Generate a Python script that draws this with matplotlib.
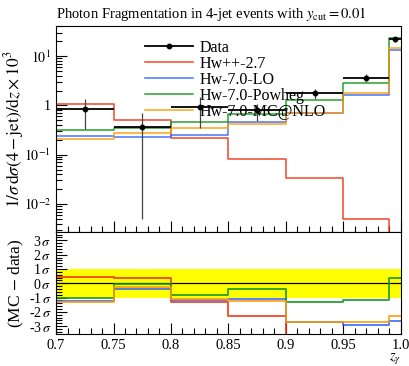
import numpy as np
import matplotlib
matplotlib.use("Agg")
import matplotlib.pyplot as plt
from matplotlib.ticker import FixedLocator, MultipleLocator, FuncFormatter, LogLocator

# bin edges in z_gamma
edges = [0.7, 0.75, 0.8, 0.85, 0.9, 0.95, 0.99, 1.0]

# data (with up/down errors)
data = [0.86, 0.37, 0.92, 0.80, 1.75, 3.58, 21.8]
data_up = [0.51, 0.34, 0.55, 0.25, 0.35, 0.67, 2.5]
data_dn = [0.53, 0.365, 0.57, 0.32, 0.43, 0.62, 2.5]

# MC predictions
hwpp = [1.08, 0.50, 0.22, 0.083, 0.034, 0.0049, 0.0005]
hw7_lo = [0.24, 0.23, 0.25, 0.45, 0.71, 1.6, 13.2]
hw7_powheg = [0.32, 0.35, 0.47, 0.67, 1.26, 2.8, 23.2]
hw7_mcnlo = [0.21, 0.27, 0.35, 0.41, 0.71, 1.8, 14.5]

# deviation (MC - data) in sigma
dev_hwpp = [0.46, 0.39, -1.32, -2.27, -10, -10, -10]
dev_lo = [-1.23, -0.40, -1.18, -1.09, -2.71, -2.9, -2.64]
dev_powheg = [-1.04, -0.05, -0.81, -0.40, -1.28, -1.18, 0.35]
dev_mcnlo = [-1.28, -0.23, -1.09, -1.23, -2.71, -2.71, -2.27]

labels = ["Hw++-2.7", "Hw-7.0-LO", "Hw-7.0-Powheg", "Hw-7.0-MC@NLO"]
colors = ["#EE3311", "#3366FF", "#109618", "#FF9900"]

plt.rcParams["font.family"] = ["Liberation Serif", "DejaVu Serif"]
plt.rcParams["mathtext.fontset"] = "stix"
plt.rcParams["font.size"] = 10

fig = plt.figure(figsize=(4.1, 3.66), dpi=100)
ax = fig.add_axes([0.1366, 0.366, 0.8414, 0.563])
rax = fig.add_axes([0.1366, 0.0874, 0.8414, 0.2786], sharex=ax)

e = np.array(edges)
centers = 0.5 * (e[:-1] + e[1:])
halfw = 0.5 * (e[1:] - e[:-1])


def step(a, vals, **kw):
    v = list(vals) + [vals[-1]]
    a.step(edges, v, where="post", **kw)


for vals, lab, c in zip([hwpp, hw7_lo, hw7_powheg, hw7_mcnlo], labels, colors):
    step(ax, vals, color=c, lw=1.1, label=lab, alpha=0.9)

ax.errorbar(centers, data, yerr=[data_dn, data_up], fmt="none", ecolor="#444444", elinewidth=0.9, zorder=5)
ax.errorbar(centers, data, xerr=halfw, fmt="none", ecolor="black", elinewidth=1.3, zorder=6)
ax.plot(centers, data, "o", color="black", ms=3.2, zorder=7)
# legend proxy for data
ax.plot([], [], "-o", color="black", ms=3.2, lw=1.3, label="Data")

ax.set_yscale("log")
ax.set_ylim(0.0027, 40.7)
ax.set_xlim(0.7, 1.0)


def logfmt(v, pos):
    if abs(v - 1) < 1e-9:
        return "1"
    ex = int(round(np.log10(v)))
    return r"$10^{%d}$" % ex


ax.yaxis.set_major_locator(LogLocator(base=10, numticks=10))
ax.yaxis.set_major_formatter(FuncFormatter(logfmt))
ax.yaxis.set_minor_locator(LogLocator(base=10, subs=np.arange(2, 10), numticks=20))
ax.yaxis.set_minor_formatter(FuncFormatter(lambda v, p: ""))

handles, labs = ax.get_legend_handles_labels()
order = [4, 0, 1, 2, 3]
ax.legend([handles[i] for i in order], [labs[i] for i in order], loc="upper left",
          bbox_to_anchor=(0.24, 0.965), frameon=False, handlelength=3.0,
          labelspacing=0.0, fontsize=11.5, handletextpad=0.4, borderaxespad=0)

ax.set_ylabel(r"$1/\sigma\,\mathrm{d}\sigma(4 - \mathrm{jet})/\mathrm{d}z \times 10^3$", fontsize=12.5)
ax.yaxis.set_label_coords(-0.086, 0.5)
ax.set_title(r"Photon Fragmentation in 4-jet events with $y_\mathrm{cut}=0.01$",
             loc="left", fontsize=10.5, pad=6)

# ratio panel
rax.axhspan(-1, 1, color="#FFFF00", lw=0)
rax.axhline(0, color="black", lw=0.9)
for vals, c in zip([dev_hwpp, dev_lo, dev_powheg, dev_mcnlo], colors):
    step(rax, vals, color=c, lw=1.3, alpha=0.9)
rax.set_ylim(-3.55, 3.58)
rax.yaxis.set_major_locator(FixedLocator([-3, -2, -1, 0, 1, 2, 3]))
rax.yaxis.set_major_formatter(FuncFormatter(lambda v, p: r"%d$\,\sigma$" % int(round(v))))
rax.yaxis.set_minor_locator(MultipleLocator(0.2))
rax.set_ylabel(r"(MC $-$ data)", fontsize=12.5)
rax.yaxis.set_label_coords(-0.086, 0.5)
rax.set_xlabel(r"$z_\gamma$", fontsize=10.5, loc="right")
rax.xaxis.set_label_coords(1.0, -0.17)

rax.xaxis.set_major_locator(FixedLocator([0.7, 0.75, 0.8, 0.85, 0.9, 0.95, 1.0]))
rax.xaxis.set_minor_locator(MultipleLocator(0.01))
rax.xaxis.set_major_formatter(FuncFormatter(lambda v, p: "%g" % round(v, 2) if abs(v - 1) > 1e-6 else "1.0"))

for a in (ax, rax):
    a.tick_params(which="major", direction="in", length=8, width=0.8, top=False, right=False, labelsize=10)
    a.tick_params(which="minor", direction="in", length=4, width=0.8, top=False, right=False)
ax.tick_params(axis="x", labelbottom=False)
rax.tick_params(axis="x", labelsize=10.5)

fig.savefig("out.png", dpi=100)
